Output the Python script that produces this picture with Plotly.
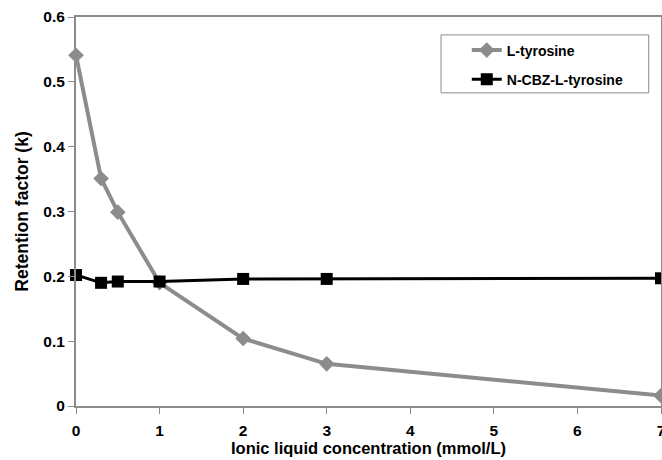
import plotly.graph_objects as go

conc = [0, 0.3, 0.5, 1, 2, 3, 7]
l_tyrosine = [0.541, 0.351, 0.299, 0.190, 0.104, 0.065, 0.016]
ncbz_tyrosine = [0.202, 0.190, 0.192, 0.192, 0.196, 0.196, 0.197]

x_ticks = [0, 1, 2, 3, 4, 5, 6, 7]
y_ticks = [0, 0.1, 0.2, 0.3, 0.4, 0.5, 0.6]
y_tick_text = ["0", "0.1", "0.2", "0.3", "0.4", "0.5", "0.6"]

font = "Liberation Sans, Arial, sans-serif"
gray = "#8c8c8c"

fig = go.Figure()
fig.add_trace(go.Scatter(
    x=conc, y=l_tyrosine, mode="lines+markers", name="<b>L-tyrosine</b>",
    legendgroup="a",
    line=dict(color=gray, width=4),
    marker=dict(symbol="diamond", size=12, color=gray),
    cliponaxis=False,
))
fig.add_trace(go.Scatter(
    x=conc, y=ncbz_tyrosine, mode="lines+markers", name="<b>N-CBZ-L-tyrosine</b>",
    legendgroup="b",
    line=dict(color="#000000", width=3),
    marker=dict(symbol="square", size=12, color="#000000"),
    cliponaxis=False,
))

axis_common = dict(
    showgrid=False, zeroline=False, showline=True, linecolor=gray, linewidth=2,
    mirror=True, ticklabeloverflow="allow",
    ticks="outside", tickcolor=gray, ticklen=6, tickwidth=1, automargin=False,
    tickfont=dict(family=font, size=15.5, color="#000"),
)

fig.update_layout(
    width=662, height=460,
    margin=dict(l=76, r=1, t=17, b=54),
    paper_bgcolor="white", plot_bgcolor="white",
    font=dict(family=font, size=14, color="#000"),
    xaxis=dict(range=[0, 7], tickvals=x_ticks,
               ticktext=[f"<b>{v}</b>" for v in x_ticks],
               ticklabelstandoff=3,
               title=dict(text="<b>Ionic liquid concentration (mmol/L)</b>", font=dict(size=16.5), standoff=0),
               **axis_common),
    yaxis=dict(range=[0, 0.6], tickvals=y_ticks,
               ticktext=[f"<b>{t}</b>" for t in y_tick_text],
               title=dict(text="<b>Retention factor (k)</b>", font=dict(size=17.5), standoff=10),
               **axis_common),
    legend=dict(x=0.668, y=0.955, xanchor="left", yanchor="top",
                borderwidth=0, bgcolor="rgba(0,0,0,0)",
                font=dict(family=font, size=14, color="#000"),
                tracegroupgap=8, itemwidth=30),
    shapes=[dict(type="rect", xref="paper", yref="paper",
                 x0=0.624, x1=0.979, y0=0.805, y1=0.954,
                 line=dict(color=gray, width=1), fillcolor="rgba(0,0,0,0)",
                 layer="below")],
    showlegend=True,
)

fig.write_html(
    "out.html",
    config={"displayModeBar": False},
    post_script="document.body.style.margin='0';document.body.style.overflow='hidden';",
)
